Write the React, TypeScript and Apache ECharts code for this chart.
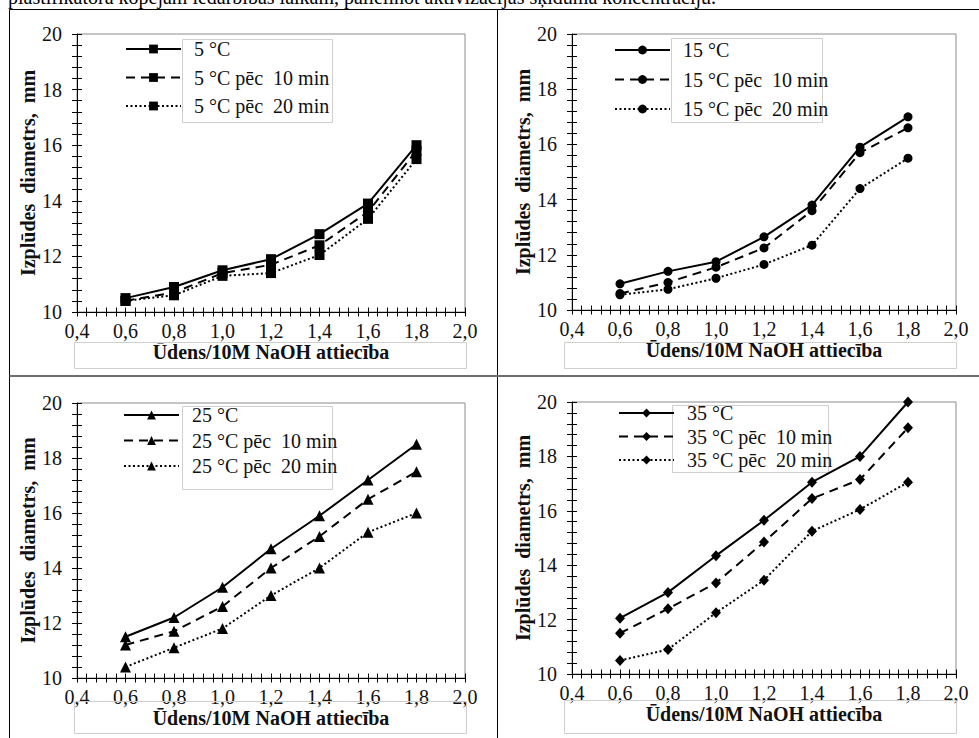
import React, { useEffect, useRef } from "react";
import * as echarts from "echarts";

const xValues = [0.6, 0.8, 1.0, 1.2, 1.4, 1.6, 1.8];

const t5 = [10.5, 10.9, 11.5, 11.9, 12.8, 13.9, 16.0];
const t5p10 = [10.4, 10.7, 11.4, 11.7, 12.4, 13.6, 15.8];
const t5p20 = [10.4, 10.6, 11.3, 11.4, 12.05, 13.35, 15.5];

const t15 = [10.95, 11.4, 11.75, 12.65, 13.8, 15.9, 17.0];
const t15p10 = [10.6, 11.0, 11.55, 12.25, 13.6, 15.7, 16.6];
const t15p20 = [10.55, 10.75, 11.15, 11.65, 12.35, 14.4, 15.5];

const t25 = [11.5, 12.2, 13.3, 14.7, 15.9, 17.2, 18.5];
const t25p10 = [11.2, 11.7, 12.6, 14.0, 15.15, 16.5, 17.5];
const t25p20 = [10.4, 11.1, 11.8, 13.0, 14.0, 15.3, 16.0];

const t35 = [12.05, 13.0, 14.35, 15.65, 17.05, 18.0, 20.0];
const t35p10 = [11.5, 12.4, 13.35, 14.85, 16.45, 17.15, 19.05];
const t35p20 = [10.5, 10.9, 12.25, 13.45, 15.25, 16.05, 17.05];

const seriesNames = [
  ["5 °C", "5 °C pēc  10 min", "5 °C pēc  20 min"],
  ["15 °C", "15 °C pēc  10 min", "15 °C pēc  20 min"],
  ["25 °C", "25 °C pēc  10 min", "25 °C pēc  20 min"],
  ["35 °C", "35 °C pēc  10 min", "35 °C pēc  20 min"],
];
const panelData = [
  [t5, t5p10, t5p20],
  [t15, t15p10, t15p20],
  [t25, t25p10, t25p20],
  [t35, t35p10, t35p20],
];
const symbols = ["rect", "circle", "triangle", "diamond"];
const symbolSizes: any[] = [10, 9, 11, [10, 11]];

const xAxisTitle = "Ūdens/10M NaOH attiecība";
const yAxisTitle = "Izplūdes  diametrs,  mm";
const topText =
  "plastifikatora kopējam iedarbības laikam, palielinot aktivizācijas šķīduma koncentrāciju.";

const FONT = "Liberation Serif, serif";

// layout
const grids = [
  { left: 77, top: 34, width: 388, height: 278 },
  { left: 572, top: 34, width: 384, height: 276 },
  { left: 77, top: 403, width: 388, height: 275 },
  { left: 572, top: 402, width: 384, height: 272 },
];
const legends = [
  { left: 125, top: 38, itemGap: 6.5, box: [182, 39, 150, 83] },
  { left: 614, top: 39, itemGap: 7.5, box: [671, 38, 151, 84] },
  { left: 123, top: 404, itemGap: 3.5, box: [182, 406, 150, 83] },
  { left: 618, top: 402, itemGap: 1.5, box: [672, 405, 156, 67] },
];
const titleBoxes = [
  [74, 342, 392, 26],
  [564, 342, 392, 26],
  [74, 701, 392, 32],
  [564, 700, 392, 33],
];

export default function App() {
  const ref = useRef<HTMLDivElement>(null);
  useEffect(() => {
    if (!ref.current) return;
    const chart = echarts.init(ref.current, null, { renderer: "svg" });

    const xAxes: any[] = [];
    const yAxes: any[] = [];
    const series: any[] = [];
    const legendArr: any[] = [];
    const graphics: any[] = [];

    grids.forEach((g, i) => {
      const baseX = {
        type: "value",
        gridIndex: i,
        min: 0.4,
        max: 2.0,
        interval: 0.2,
        position: "bottom",
        splitLine: { show: false },
        axisLine: { show: true, onZero: false, lineStyle: { color: "#000", width: 1 } },
        minorTick: { show: true, splitNumber: 5, length: 4.5, lineStyle: { color: "#000", width: 1 } },
      };
      xAxes.push({
        ...baseX,
        axisTick: { show: true, inside: false, length: 4.5, lineStyle: { color: "#000", width: 1 } },
        axisLabel: {
          show: true,
          margin: 9,
          color: "#111",
          fontFamily: FONT,
          fontSize: 20,
          formatter: (v: number) => v.toFixed(1).replace(".", ","),
        },
        name: xAxisTitle,
        nameLocation: "middle",
        nameGap: 28,
        nameTextStyle: { fontFamily: FONT, fontSize: 20, fontWeight: "bold", color: "#111" },
      });
      xAxes.push({
        ...baseX,
        axisLine: { show: false },
        axisTick: { show: true, inside: true, length: 4.5, lineStyle: { color: "#000", width: 1 } },
        axisLabel: { show: false },
      });
      const baseY = {
        type: "value",
        gridIndex: i,
        min: 10,
        max: 20,
        interval: 2,
        position: "left",
        splitLine: { show: false },
        axisLine: { show: true, onZero: false, lineStyle: { color: "#000", width: 1 } },
        minorTick: { show: true, splitNumber: 5, length: 5, lineStyle: { color: "#000", width: 1 } },
      };
      yAxes.push({
        ...baseY,
        axisTick: { show: true, inside: false, length: 5, lineStyle: { color: "#000", width: 1 } },
        axisLabel: { show: true, margin: 15, color: "#111", fontFamily: FONT, fontSize: 20 },
        name: yAxisTitle,
        nameLocation: "middle",
        nameRotate: 90,
        nameGap: 39,
        nameTextStyle: { fontFamily: FONT, fontSize: 20, fontWeight: "bold", color: "#111" },
      });
      yAxes.push({
        ...baseY,
        axisLine: { show: false },
        axisTick: { show: true, inside: true, length: 5, lineStyle: { color: "#000", width: 1 } },
        axisLabel: { show: false },
      });

      const types = ["solid", [9, 6], [2, 2.5]];
      panelData[i].forEach((vals, k) => {
        series.push({
          type: "line",
          name: seriesNames[i][k],
          xAxisIndex: 2 * i,
          yAxisIndex: 2 * i,
          data: xValues.map((x, j) => [x, vals[j]]),
          symbol: symbols[i],
          symbolSize: symbolSizes[i],
          showSymbol: true,
          itemStyle: { color: "#000" },
          lineStyle: { color: "#000", width: 2, type: types[k] },
          z: 3 - k + 2,
        });
      });

      const L = legends[i];
      legendArr.push({
        orient: "vertical",
        left: L.left,
        top: L.top,
        itemGap: L.itemGap,
        itemWidth: 55,
        itemHeight: 11,
        padding: 0,
        data: seriesNames[i],
        selectedMode: false,
        textStyle: {
          fontFamily: FONT,
          fontSize: 20,
          color: "#111",
          lineHeight: 22,
          padding: [0, 0, 0, 8],
        },
      });
      graphics.push({
        type: "rect",
        shape: { x: L.box[0] + 0.5, y: L.box[1] + 0.5, width: L.box[2], height: L.box[3] },
        style: { fill: "none", stroke: "#cfcfcf", lineWidth: 1 },
        z: 1,
        silent: true,
      });
      const tb = titleBoxes[i];
      graphics.push({
        type: "rect",
        shape: { x: tb[0] + 0.5, y: tb[1] + 0.5, width: tb[2], height: tb[3] },
        style: { fill: "none", stroke: "#cfcfcf", lineWidth: 1 },
        z: 1,
        silent: true,
      });
    });

    // table lines
    graphics.push(
      { type: "line", shape: { x1: 9.5, y1: 9.5, x2: 979, y2: 9.5 }, style: { stroke: "#000", lineWidth: 1 }, silent: true },
      { type: "line", shape: { x1: 9.5, y1: 9.5, x2: 9.5, y2: 738 }, style: { stroke: "#000", lineWidth: 1 }, silent: true },
      { type: "line", shape: { x1: 497.5, y1: 9.5, x2: 497.5, y2: 738 }, style: { stroke: "#000", lineWidth: 1 }, silent: true },
      { type: "line", shape: { x1: 9.5, y1: 376, x2: 979, y2: 376 }, style: { stroke: "#6e6e6e", lineWidth: 2 }, silent: true },
      {
        type: "text",
        x: 8,
        y: 7,
        style: { text: topText, fontFamily: FONT, fontSize: 20, fill: "#000", verticalAlign: "bottom", align: "left" },
        silent: true,
      }
    );

    chart.setOption({
      animation: false,
      backgroundColor: "#fff",
      textStyle: { fontFamily: FONT },
      grid: grids.map((g) => ({
        ...g,
        show: true,
        borderColor: "#8c8c8c",
        borderWidth: 1,
        backgroundColor: "transparent",
        containLabel: false,
      })),
      xAxis: xAxes,
      yAxis: yAxes,
      legend: legendArr,
      series,
      graphic: graphics,
    });
    return () => chart.dispose();
  }, []);
  return (
    <div
      ref={ref}
      style={{ position: "absolute", left: 0, top: 0, width: 979, height: 738, fontFamily: FONT }}
    />
  );
}
